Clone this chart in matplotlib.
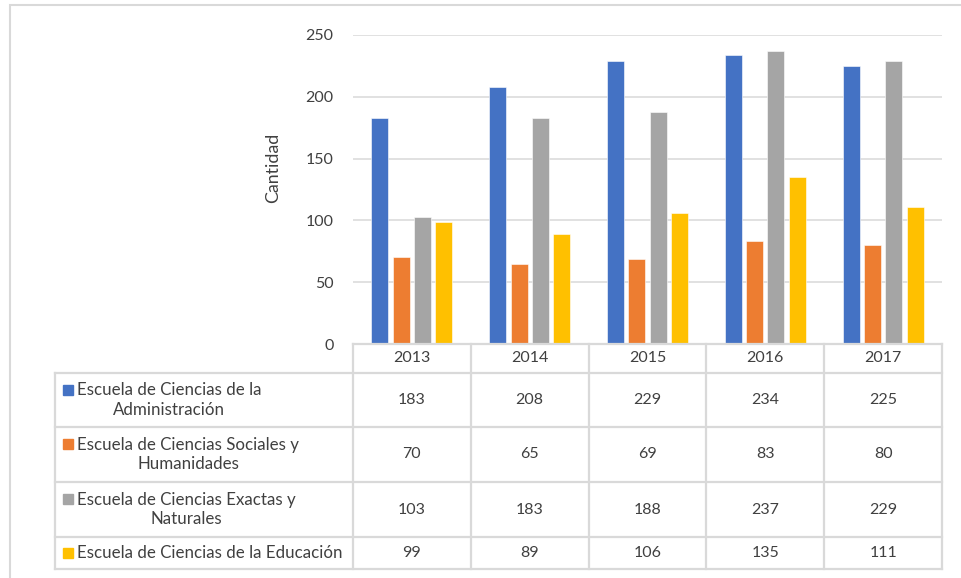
import matplotlib.pyplot as plt
from matplotlib.patches import Rectangle

plt.rcParams["font.family"] = ["Lato", "DejaVu Sans"]

years = ["2013", "2014", "2015", "2016", "2017"]
series_names = [
    "Escuela de Ciencias de la\nAdministración",
    "Escuela de Ciencias Sociales y\nHumanidades",
    "Escuela de Ciencias Exactas y\nNaturales",
    "Escuela de Ciencias de la Educación",
]
administracion = [183, 208, 229, 234, 225]
sociales = [70, 65, 69, 83, 80]
exactas = [103, 183, 188, 237, 229]
educacion = [99, 89, 106, 135, 111]
series_values = [administracion, sociales, exactas, educacion]
colors = ["#4472C4", "#ED7D31", "#A5A5A5", "#FFC000"]

text_color = "#404040"
line_color = "#D9D9D9"
W, H = 961, 578

fig = plt.figure(figsize=(W / 100, H / 100), dpi=100)

# outer chart frame (only left/top visible in the crop)
fig.patches.append(Rectangle((10 / W, -0.1), 1.2, (H - 5) / H + 0.1,
                             transform=fig.transFigure, fill=False,
                             edgecolor=line_color, linewidth=1.5))

# column chart
x0, x1, ytop, ybot = 353, 942, 35, 344
ax = fig.add_axes([x0 / W, (H - ybot) / H, (x1 - x0) / W, (ybot - ytop) / H])
step, width = 0.181, 0.144
for i, (vals, c) in enumerate(zip(series_values, colors)):
    xs = [k + (i - 1.5) * step for k in range(len(years))]
    ax.bar(xs, vals, width=width, color=c, edgecolor="white", linewidth=0.4, zorder=3)
ax.set_xlim(-0.5, len(years) - 0.5)
ax.set_ylim(0, 250)
ax.set_yticks(range(0, 251, 50))
ax.set_xticks([])
ax.grid(axis="y", color=line_color, linewidth=1.1, zorder=0)
for s in ax.spines.values():
    s.set_visible(False)
ax.tick_params(axis="y", length=0, pad=14, labelsize=11.5, labelcolor=text_color)
fig.text(273 / W, 1 - 168 / H, "Cantidad", rotation=90, ha="center", va="center",
         fontsize=12.8, color=text_color)

# data table below the chart
tx0, ty0, ty1 = 55, 344, 569
colw = (x1 - x0) / len(years)
left_data = -0.5 - (x0 - tx0) / colw
tax = fig.add_axes([tx0 / W, (H - ty1) / H, (x1 - tx0) / W, (ty1 - ty0) / H])
tax.set_xlim(left_data, len(years) - 0.5)
tax.set_ylim(ty1, ty0)
tax.axis("off")

row_edges = [344, 373, 427, 482, 537, 569]
lw = 1.6
# horizontal lines
tax.plot([-0.5, len(years) - 0.5], [row_edges[0]] * 2, color=line_color, lw=lw, clip_on=False)
for y in row_edges[1:]:
    tax.plot([left_data, len(years) - 0.5], [y, y], color=line_color, lw=lw, clip_on=False)
# vertical lines
tax.plot([left_data, left_data], [row_edges[1], row_edges[-1]], color=line_color, lw=lw, clip_on=False)
for k in range(len(years) + 1):
    tax.plot([k - 0.5, k - 0.5], [row_edges[0], row_edges[-1]], color=line_color, lw=lw, clip_on=False)

# header
hy = (row_edges[0] + row_edges[1]) / 2
for k, yr in enumerate(years):
    tax.text(k, hy, yr, ha="center", va="center", fontsize=11.5, color=text_color)

key_x = left_data + (68 - tx0) / colw
lab_x = left_data + (77 - tx0) / colw
for r, (name, vals, c) in enumerate(zip(series_names, series_values, colors)):
    cy = (row_edges[r + 1] + row_edges[r + 2]) / 2
    nlines = name.count("\n") + 1
    key_y = cy - 10.5 if nlines == 2 else cy
    tax.plot(key_x, key_y, marker="s", markersize=7.2, color=c, clip_on=False)
    tax.text(lab_x, cy, name, ha="left", va="center", multialignment="center",
             fontsize=12.2, color=text_color, linespacing=1.3)
    for k, v in enumerate(vals):
        tax.text(k, cy, str(v), ha="center", va="center", fontsize=11.5, color=text_color)

fig.savefig("out.png", dpi=100, facecolor="white")
